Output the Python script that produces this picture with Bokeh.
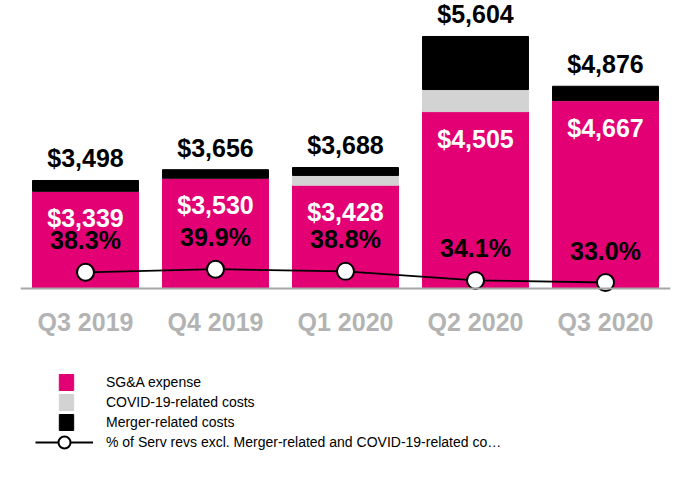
from bokeh.plotting import figure
from bokeh.models import ColumnDataSource, Range1d, Legend, LegendItem, FactorRange
from bokeh.embed import file_html
from bokeh.resources import INLINE
from bokeh.core.properties import value

quarters = ["Q3 2019", "Q4 2019", "Q1 2020", "Q2 2020", "Q3 2020"]
sga = [3339, 3530, 3428, 4505, 4667]
covid = [0, 0, 144, 323, 0]
merger = [159, 126, 116, 776, 209]
totals = [3498, 3656, 3688, 5604, 4876]
pct = [38.3, 39.9, 38.8, 34.1, 33.0]

# value-axis floor of the original chart (bars start here)
axis_floor = 1919

cov_top = [s + c for s, c in zip(sga, covid)]
src = ColumnDataSource(dict(
    q=quarters, sga=sga, cov_top=cov_top, total=totals, pct=pct,
    total_lbl=[f"${v:,}" for v in totals],
    sga_lbl=[f"${v:,}" for v in sga],
    pct_lbl=[f"{v:.1f}%" for v in pct],
))

MAGENTA = "#E20074"
FONT = "Liberation Sans"

p = figure(width=690, height=480, x_range=FactorRange(*quarters, range_padding=0),
           y_range=Range1d(-889, 6130), y_axis_location=None,
           output_backend="svg", toolbar_location=None,
           min_border_left=20, min_border_right=20, min_border_top=0, min_border_bottom=0)
p.extra_y_ranges = {"pct": Range1d(-69.7, 179.3)}
p.outline_line_color = None
p.xgrid.visible = False
p.ygrid.visible = False

r_sga = p.vbar(x="q", bottom=axis_floor, top="sga", width=0.815, source=src, color=MAGENTA)
r_cov = p.vbar(x="q", bottom="sga", top="cov_top", width=0.815, source=src, color="#D3D3D3")
r_mer = p.vbar(x="q", bottom="cov_top", top="total", width=0.815, source=src, color="black")

r_line = p.line(x="q", y="pct", source=src, y_range_name="pct", line_color="black", line_width=1.8)
r_pts = p.scatter(x="q", y="pct", source=src, y_range_name="pct", size=17,
                  fill_color="white", line_color="black", line_width=2)

p.text(x="q", y="total", text="total_lbl", source=src, text_align="center",
       text_baseline="middle", y_offset=-22, text_font=value(FONT),
       text_font_style="bold", text_font_size="25px", text_color="black")
p.text(x="q", y="sga", text="sga_lbl", source=src, text_align="center",
       text_baseline="middle", y_offset=27, text_font=value(FONT),
       text_font_style="bold", text_font_size="25px", text_color="white")
p.text(x="q", y="pct", text="pct_lbl", source=src, y_range_name="pct", text_align="center",
       text_baseline="middle", y_offset=-32, text_font=value(FONT),
       text_font_style="bold", text_font_size="25px", text_color="black")

ax = p.xaxis[0]
ax.fixed_location = axis_floor
ax.axis_line_color = "#A6A6A6"
ax.axis_line_width = 2
ax.major_tick_line_color = None
ax.minor_tick_line_color = None
ax.major_tick_out = 0
ax.major_label_standoff = 20
ax.major_label_text_font = FONT
ax.major_label_text_font_size = "25px"
ax.major_label_text_font_style = "bold"
ax.major_label_text_color = "#B3B3B3"

leg1 = Legend(items=[LegendItem(label="SG&A expense", renderers=[r_sga]),
                     LegendItem(label="COVID-19-related costs", renderers=[r_cov]),
                     LegendItem(label="Merger-related costs", renderers=[r_mer])],
              location=(37, 48), orientation="vertical", glyph_width=18, glyph_height=20,
              label_height=20, spacing=0, padding=0, margin=0, label_standoff=31,
              label_text_font=FONT, label_text_font_size="14px", label_text_color="black",
              border_line_color=None, background_fill_alpha=0)
leg2 = Legend(items=[LegendItem(label="% of Serv revs excl. Merger-related and COVID-19-related co\u2026",
                                renderers=[r_line, r_pts])],
              location=(15, 23), orientation="vertical", glyph_width=58, glyph_height=30,
              label_height=20, spacing=0, padding=0, margin=0, label_standoff=13,
              label_text_font=FONT, label_text_font_size="14px", label_text_color="black",
              border_line_color=None, background_fill_alpha=0)
p.add_layout(leg1)
p.add_layout(leg2)

open("out.html", "w").write(file_html(p, INLINE))
